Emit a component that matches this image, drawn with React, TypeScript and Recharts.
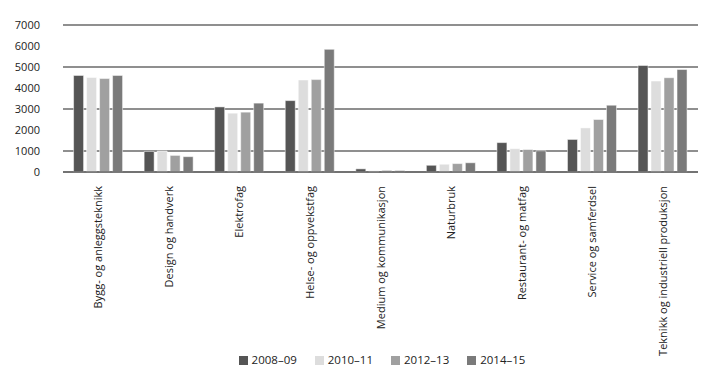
import React from 'react';
import { BarChart, Bar, XAxis, YAxis, CartesianGrid, Legend } from 'recharts';

const categories = [
  'Bygg- og anleggsteknikk',
  'Design og handverk',
  'Elektrofag',
  'Helse- og oppvekstfag',
  'Medium og kommunikasjon',
  'Naturbruk',
  'Restaurant- og matfag',
  'Service og samferdsel',
  'Teknikk og industriell produksjon',
];

const y2008 = [4600, 980, 3100, 3400, 150, 320, 1400, 1550, 5070];
const y2010 = [4500, 1000, 2800, 4380, 60, 370, 1110, 2100, 4330];
const y2012 = [4450, 790, 2850, 4400, 80, 400, 1070, 2500, 4490];
const y2014 = [4600, 730, 3280, 5840, 70, 440, 1010, 3180, 4880];

const yTicks = [0, 1000, 2000, 3000, 4000, 5000, 6000, 7000];

const data = categories.map((name, i) => ({
  name,
  '2008–09': y2008[i],
  '2010–11': y2010[i],
  '2012–13': y2012[i],
  '2014–15': y2014[i],
}));

const font = '"Open Sans", "DejaVu Sans", sans-serif';

const CategoryTick = (props: any) => {
  const { x, y, payload } = props;
  return (
    <g transform={`translate(${x + 4},${y + 6})`}>
      <text transform="rotate(-90)" textAnchor="end" fontSize={11} fill="#222" fontFamily={font}>
        {payload.value}
      </text>
    </g>
  );
};

const App = () => {
  return (
    <div style={{ position: 'absolute', left: 0, top: 0, background: '#fff' }}>
      <BarChart
        width={719}
        height={383}
        data={data}
        margin={{ top: 25, right: 21, left: 0, bottom: 8 }}
        barCategoryGap="15%"
        barGap={3}
      >
        <CartesianGrid vertical={false} stroke="#6a6a6a" strokeWidth={1.5} />
        <XAxis
          dataKey="name"
          interval={0}
          tickLine={false}
          axisLine={{ stroke: '#6a6a6a', strokeWidth: 1.5 }}
          height={188}
          tick={<CategoryTick />}
        />
        <YAxis
          width={63}
          domain={[0, 7000]}
          ticks={yTicks}
          tickLine={false}
          axisLine={false}
          tickMargin={17}
          tick={{ fontSize: 11, fill: '#222', fontFamily: font }}
        />
        <Legend
          verticalAlign="bottom"
          iconType="square"
          iconSize={9}
          wrapperStyle={{ fontSize: 11.5, fontFamily: font, color: '#222', left: 42, bottom: 16 }}
          formatter={(value: string) => <span style={{ color: '#222', marginRight: 8 }}>{value}</span>}
        />
        <Bar dataKey="2008–09" fill="#555555" stroke="#fff" strokeWidth={0.5} isAnimationActive={false} />
        <Bar dataKey="2010–11" fill="#dddddd" stroke="#fff" strokeWidth={0.5} isAnimationActive={false} />
        <Bar dataKey="2012–13" fill="#a0a0a0" stroke="#fff" strokeWidth={0.5} isAnimationActive={false} />
        <Bar dataKey="2014–15" fill="#7a7a7a" stroke="#fff" strokeWidth={0.5} isAnimationActive={false} />
      </BarChart>
    </div>
  );
};

export default App;
